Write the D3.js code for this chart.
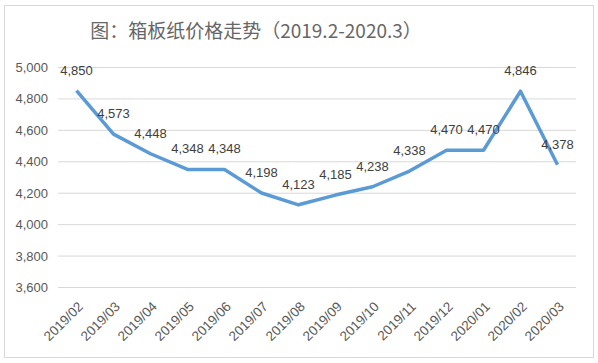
<!DOCTYPE html>
<html>
<head>
<meta charset="utf-8">
<script src="https://cdn.jsdelivr.net/npm/d3@7"></script>
<style>
body{margin:0;background:#fff;}
svg{display:block;}
</style>
</head>
<body>
<svg></svg>
<script>
// chart data
var months = ['2019/02','2019/03','2019/04','2019/05','2019/06','2019/07','2019/08','2019/09','2019/10','2019/11','2019/12','2020/01','2020/02','2020/03'];
var prices = [4850,4573,4448,4348,4348,4198,4123,4185,4238,4338,4470,4470,4846,4378];
var yTicks = [3600,3800,4000,4200,4400,4600,4800,5000];
var title = '图：箱板纸价格走势（2019.2-2020.3）';

var width = 598, height = 363;
var plot = {left:58, right:576, top:67, bottom:287};
var svg = d3.select('svg').attr('width',width).attr('height',height);
var numFont = '"Liberation Sans", Arial, sans-serif';

// outer frame
svg.append('rect')
	.attr('x',4.5).attr('y',5.5)
	.attr('width',589).attr('height',352)
	.style('fill','#fff').style('stroke','#d9d9d9');

svg.append('text')
	.attr('x',256).attr('y',38)
	.attr('text-anchor','middle')
	.style('font-family','"Noto Sans CJK SC", sans-serif')
	.style('font-size','19px')
	.style('fill','#666')
	.text(title);

var xScale = d3.scaleBand().domain(months).range([plot.left,plot.right]);
var yScale = d3.scaleLinear().domain([3600,5000]).range([plot.bottom,plot.top]);

// gridlines + y labels
var axisY = d3.axisLeft(yScale).tickValues(yTicks).tickSize(-(plot.right-plot.left))
	.tickFormat(d3.format(','));
var axisYG = svg.append('g').attr('transform','translate('+plot.left+',0)').call(axisY);
axisYG.select('.domain').remove();
axisYG.selectAll('line').style('stroke','#d9d9d9');
axisYG.selectAll('text').attr('x',-10).attr('dy','0.35em')
	.style('font-family',numFont).style('font-size','13px').style('fill','#595959');

// x labels
var axisX = d3.axisBottom(xScale).tickSize(0);
var axisXG = svg.append('g').attr('transform','translate(0,'+plot.bottom+')').call(axisX);
axisXG.select('.domain').remove();
axisXG.selectAll('text')
	.attr('text-anchor','end')
	.attr('transform','translate(4,17) rotate(-45)')
	.attr('dy','0.35em').attr('y',0)
	.style('font-family',numFont).style('font-size','13.5px').style('fill','#595959');

// line
var line = d3.line()
	.x(function(d,i){ return xScale(months[i]) + xScale.bandwidth()/2; })
	.y(function(d){ return yScale(d); });
svg.append('path').datum(prices)
	.attr('d',line)
	.style('fill','none')
	.style('stroke','#5b9bd5')
	.style('stroke-width',3.5)
	.style('stroke-linejoin','round');

// data labels
svg.append('g').selectAll('text').data(prices).enter().append('text')
	.attr('x',function(d,i){ return xScale(months[i]) + xScale.bandwidth()/2; })
	.attr('y',function(d){ return yScale(d) - 16; })
	.attr('text-anchor','middle')
	.style('font-family',numFont).style('font-size','13px').style('fill','#404040')
	.text(function(d){ return d3.format(',')(d); });
</script>
</body>
</html>
